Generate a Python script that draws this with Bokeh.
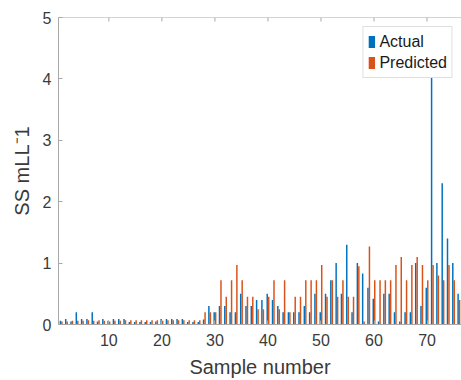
from bokeh.plotting import figure
from bokeh.models import Range1d, FixedTicker, Legend, LegendItem, ColumnDataSource, Span
from bokeh.embed import file_html
from bokeh.resources import INLINE

samples = list(range(1, 77))
actual = [0.06, 0.09, 0.05, 0.2, 0.09, 0.09, 0.2, 0.05, 0.09, 0.06,
          0.09, 0.09, 0.09, 0.04, 0.04, 0.04, 0.04, 0.04, 0.05, 0.09,
          0.09, 0.09, 0.09, 0.09, 0.04, 0.04, 0.04, 0.08, 0.3, 0.2,
          0.3, 0.3, 0.2, 0.2, 0.5, 0.3, 0.3, 0.4, 0.4, 0.5,
          0.4, 0.3, 0.2, 0.2, 0.2, 0.2, 0.3, 0.2, 0.5, 0.2,
          0.5, 0.72, 1.0, 0.5, 1.3, 0.2, 1.0, 0.83, 0.6, 0.42,
          0.05, 0.5, 0.5, 0.2, 0.05, 0.2, 0.2, 1.0, 0.3, 0.6,
          4.15, 1.0, 2.3, 1.4, 1.0, 0.5]
predicted = [0.05, 0.05, 0.06, 0.06, 0.06, 0.07, 0.06, 0.07, 0.06, 0.05,
             0.06, 0.06, 0.07, 0.07, 0.07, 0.07, 0.07, 0.07, 0.07, 0.06,
             0.07, 0.07, 0.07, 0.07, 0.07, 0.07, 0.07, 0.2, 0.2, 0.2,
             0.72, 0.45, 0.72, 0.97, 0.72, 0.45, 0.45, 0.25, 0.25, 0.45,
             0.72, 0.25, 0.72, 0.2, 0.45, 0.45, 0.72, 0.72, 0.72, 0.97,
             0.45, 0.72, 0.45, 0.72, 0.45, 0.45, 0.95, 0.05, 1.27, 0.72,
             0.72, 0.72, 0.72, 0.97, 1.1, 0.72, 0.97, 1.1, 0.97, 0.72,
             0.97, 0.8, 0.72, 0.97, 0.72, 0.4]
x_ticks = [10, 20, 30, 40, 50, 60, 70]
y_ticks = [0, 1, 2, 3, 4, 5]
series_names = ["Actual", "Predicted"]
colors = ["#0072BD", "#D95319"]

FONT = "Liberation Sans"
AXC = "#a8a8a8"
TXT = "#3a3a3a"
Y_MAX = 5

p = figure(width=461, height=380, output_backend="svg", toolbar_location=None,
           x_range=Range1d(0.5, 76.5), y_range=Range1d(0, Y_MAX),
           min_border_left=58, min_border_right=0, min_border_top=17, min_border_bottom=56)
p.outline_line_color = None
p.xgrid.visible = False
p.ygrid.visible = False
p.background_fill_color = "white"
p.border_fill_color = "white"

src = ColumnDataSource(dict(
    xa=[s - 0.14 for s in samples], xp=[s + 0.14 for s in samples],
    a=actual, pr=predicted))
ra = p.vbar(x="xa", top="a", width=0.28, bottom=0, source=src,
            fill_color=colors[0], line_color=None)
rp = p.vbar(x="xp", top="pr", width=0.28, bottom=0, source=src,
            fill_color=colors[1], line_color=None)

for ax in [p.xaxis[0], p.yaxis[0]]:
    ax.axis_line_color = AXC
    ax.major_tick_line_color = AXC
    ax.major_tick_in = 4
    ax.major_tick_out = 0
    ax.minor_tick_line_color = None
    ax.major_label_text_font = FONT
    ax.major_label_text_font_size = "16px"
    ax.major_label_text_color = TXT
    ax.axis_label_text_font = FONT
    ax.axis_label_text_font_size = "20px"
    ax.axis_label_text_color = TXT
    ax.axis_label_text_font_style = "normal"

p.xaxis[0].ticker = FixedTicker(ticks=x_ticks)
p.yaxis[0].ticker = FixedTicker(ticks=y_ticks)
p.xaxis[0].axis_label = "Sample number"
p.yaxis[0].axis_label = "SS mLL\u207b1"
p.xaxis[0].major_label_standoff = 9
p.xaxis[0].axis_label_standoff = 7
p.yaxis[0].major_label_standoff = 7
p.yaxis[0].axis_label_standoff = 7

# top box edge with inward ticks (MATLAB style box)
p.add_layout(Span(location=Y_MAX, dimension="width", line_color=AXC, line_width=1))
p.segment(x0=x_ticks, y0=[Y_MAX] * len(x_ticks), x1=x_ticks,
          y1=[Y_MAX - 0.065] * len(x_ticks), line_color=AXC, line_width=1)

legend = Legend(items=[LegendItem(label=series_names[0], renderers=[ra]),
                       LegendItem(label=series_names[1], renderers=[rp])],
                location="top_right")
legend.label_text_font = FONT
legend.label_text_font_size = "16px"
legend.label_text_color = "#1a1a1a"
legend.border_line_color = "#c0c0c0"
legend.background_fill_alpha = 1
legend.glyph_width = 8
legend.glyph_height = 15
legend.label_standoff = 4
legend.spacing = 0
legend.padding = 4
legend.margin = 9
legend.label_height = 21
p.add_layout(legend)

open("out.html", "w").write(file_html(p, INLINE))
